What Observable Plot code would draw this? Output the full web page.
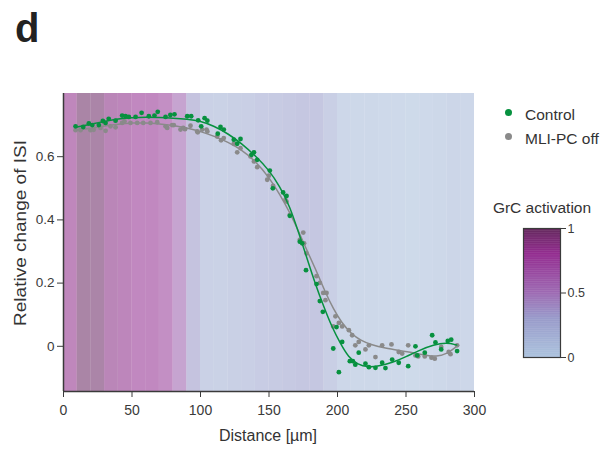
<!DOCTYPE html>
<html>
<head>
<meta charset="utf-8">
<script src="https://cdn.jsdelivr.net/npm/d3@7"></script>
<script src="https://cdn.jsdelivr.net/npm/@observablehq/plot@0.6"></script>
<style>
  html, body { margin: 0; padding: 0; background: #fff; }
  body { font-family: "Liberation Sans", Arial, sans-serif; color: #333; }
  #wrap { position: relative; width: 605px; height: 452px; overflow: hidden; }
  .abs { position: absolute; white-space: nowrap; line-height: 1; }
  #panel { left: 15px; top: 8px; font-size: 40px; font-weight: bold; color: #222; }
  #ylab { left: 20px; top: 233px; font-size: 19px; transform: translate(-50%, -50%) rotate(-90deg) scale(1, 0.85); }
  #xlab { left: 268px; top: 428px; font-size: 16px; transform: translateX(-50%); }
  .leg { left: 525px; font-size: 15.5px; }
  .sw { position: absolute; width: 7px; height: 7px; border-radius: 50%; }
  #cbtitle { left: 542px; top: 200px; font-size: 15.5px; transform: translateX(-50%); }
  #main { position: absolute; left: 0; top: 0; }
  #cbar { position: absolute; left: 522px; top: 222px; }
</style>
</head>
<body>
<div id="wrap">
  <div id="main"></div>
  <div id="cbar"></div>
  <div class="abs" id="panel">d</div>
  <div class="abs" id="ylab">Relative change of ISI</div>
  <div class="abs" id="xlab">Distance [µm]</div>
  <div class="sw" style="left:504.5px; top:108.5px; background:#07913f;"></div>
  <div class="abs leg" style="top:107px;">Control</div>
  <div class="sw" style="left:504.5px; top:132.5px; background:#8a8a8a;"></div>
  <div class="abs leg" style="top:131px;">MLI-PC off</div>
  <div class="abs" id="cbtitle">GrC activation</div>
</div>
<script>
// ---------- data ----------
const xTicks = [0, 50, 100, 150, 200, 250, 300];
const yTicks = [0, 0.2, 0.4, 0.6];
const yDomain = [-0.143, 0.8];
const cbarTicks = [0, 0.5, 1];

// background bands (10 µm each) and their GrC activation
const bandStart = [0,10,20,30,40,50,60,70,80,90,100,110,120,130,140,150,160,170,180,190,200,210,220,230,240,250,260,270,280,290];
const grcActivation = [0.82,0.97,0.96,0.85,0.83,0.79,0.79,0.73,0.55,0.32,0.15,0.14,0.16,0.17,0.21,0.22,0.25,0.28,0.28,0.17,0.07,0.06,0.05,0.04,0.04,0.03,0.04,0.06,0.08,0.07];

// colormap stops
const cmapStops = [0, 0.3, 0.5, 0.8, 1];
const cmapColors = ["#a0bad8", "#8a8cc2", "#9055a8", "#840f80", "#4d0a45"];

// Control points
const controlX = [8.8,14.4,18.5,21,25.8,28.7,30.7,33,38,42.8,45.3,47.7,52.6,57,62.3,66.4,68.8,74.5,78,81,90.3,93.2,98.3,100.5,103,105,112.6,114.6,117,124.3,126.8,129.2,137.2,139,141.4,150.6,152.8,160.3,162.8,165.2,172.5,174.2,177,184.7,187.1,189.3,196.9,199.3,201,203.4,209,211.2,213,215.5,220.4,222.9,227.7,232.6,235,239.9,244.7,251.6,256.9,258.2,263.7,269.1,271.5,275.7,280.5,283,287.3];
const controlY = [0.696,0.694,0.705,0.70,0.70,0.713,0.707,0.72,0.714,0.73,0.728,0.726,0.726,0.739,0.728,0.73,0.742,0.726,0.732,0.734,0.728,0.728,0.715,0.696,0.722,0.714,0.673,0.694,0.686,0.654,0.641,0.656,0.606,0.614,0.59,0.556,0.50,0.487,0.476,0.413,0.331,0.326,0.241,0.197,0.143,0.109,-0.007,0.061,-0.082,0.014,-0.047,-0.047,-0.058,-0.02,-0.055,-0.066,-0.068,-0.052,-0.069,-0.042,-0.052,-0.063,0.0,-0.029,-0.02,0.035,0.012,-0.01,0.017,0.021,-0.015];

// MLI-PC off points
const mliX = [8.8,12.4,19.7,22,27,30.7,34.3,38,42.8,44.5,48.9,53.8,58.2,63.5,68.4,74.5,75.7,79.3,80.5,85.4,87.4,88.7,92.7,97.6,98,101.2,104.4,105,112.2,115,117,124.3,126.8,129.2,136.5,139,141.4,148.7,149.9,153,162,162.8,165.2,172.5,175,175.6,177.4,184.7,187.1,189.6,191.2,192,196.9,198.5,201,203.4,208.3,210.7,213,215.5,220.4,222.9,227.7,232.6,239.4,244.7,247.2,251.6,256.9,258.9,263.7,268.6,271,275.7,281.2,282.5,287.3];
const mliY = [0.684,0.684,0.684,0.685,0.691,0.682,0.696,0.693,0.707,0.712,0.707,0.707,0.707,0.707,0.709,0.696,0.691,0.70,0.70,0.686,0.691,0.687,0.698,0.68,0.677,0.686,0.686,0.68,0.664,0.652,0.659,0.641,0.614,0.627,0.601,0.585,0.567,0.527,0.54,0.508,0.463,0.458,0.416,0.337,0.36,0.326,0.294,0.222,0.201,0.169,0.146,0.169,0.063,0.095,0.074,0.063,0.051,0.035,0.003,0.014,-0.01,0.003,-0.034,0.003,0.006,-0.018,-0.023,0.003,-0.029,-0.032,-0.032,-0.036,-0.039,-0.002,-0.018,-0.025,0.003];

// fitted curves
const controlFitX = [9,20,30,40,50,60,70,80,90,100,110,120,130,140,150,158,165,172,178,184,190,196,202,208,215,222,230,240,250,260,270,280,287];
const controlFitY = [0.693,0.703,0.712,0.72,0.724,0.725,0.724,0.722,0.719,0.713,0.697,0.673,0.642,0.603,0.558,0.505,0.445,0.355,0.275,0.195,0.125,0.06,0.01,-0.035,-0.058,-0.066,-0.063,-0.052,-0.033,-0.012,0.005,0.012,0.004];
const mliFitX = [9,20,30,40,50,60,70,80,90,100,110,120,130,140,150,158,165,172,178,185,191,197,203,210,217,225,235,245,255,265,272,280,287];
const mliFitY = [0.684,0.690,0.697,0.703,0.707,0.707,0.704,0.699,0.691,0.68,0.665,0.646,0.622,0.587,0.535,0.48,0.425,0.36,0.3,0.235,0.172,0.118,0.075,0.04,0.018,0.004,-0.006,-0.013,-0.02,-0.029,-0.033,-0.024,0.0];

// ---------- build ----------
const green = "#07913f", gray = "#8a8a8a", axisColor = "#3a3a3a";
const cmap = d3.scaleLinear().domain(cmapStops).range(cmapColors).interpolate(d3.interpolateRgb);

const bands = bandStart.map((s, i) => ({x0: s, x1: s + 10, a: grcActivation[i]}));
const ctrl = controlX.map((x, i) => ({x, y: controlY[i]}));
const mli = mliX.map((x, i) => ({x, y: mliY[i]}));
const ctrlFit = controlFitX.map((x, i) => ({x, y: controlFitY[i]}));
const mliFit = mliFitX.map((x, i) => ({x, y: mliFitY[i]}));

const main = Plot.plot({
  width: 480, height: 452,
  marginLeft: 63, marginRight: 6, marginTop: 93, marginBottom: 61,
  style: {fontFamily: "'Liberation Sans', Arial, sans-serif", color: axisColor, background: "transparent", overflow: "visible"},
  x: {domain: [0, 300]},
  y: {domain: yDomain},
  marks: [
    Plot.rect(bands, {x1: "x0", x2: "x1", fill: d => cmap(d.a), fillOpacity: 0.5}),
    Plot.dot(mli, {x: "x", y: "y", r: 2.4, fill: gray}),
    Plot.line(mliFit, {x: "x", y: "y", curve: "basis", stroke: gray, strokeWidth: 1.5}),
    Plot.dot(ctrl, {x: "x", y: "y", r: 2.4, fill: green}),
    Plot.line(ctrlFit, {x: "x", y: "y", curve: "basis", stroke: green, strokeWidth: 1.5}),
    Plot.ruleX([0], {stroke: axisColor, strokeWidth: 1.5}),
    Plot.ruleY([yDomain[0]], {stroke: axisColor, strokeWidth: 1.5}),
    Plot.axisY({ticks: yTicks, tickFormat: d => d === 0 ? "0" : d.toFixed(1), tickSize: 6, tickPadding: 3, fontSize: 13.5, label: null}),
    Plot.axisX({ticks: xTicks, tickFormat: d => String(d), tickSize: 6, tickPadding: 8, fontSize: 14, label: null})
  ]
});
document.getElementById("main").appendChild(main);

const steps = d3.range(0, 1, 0.005);
const cbar = Plot.plot({
  width: 80, height: 141,
  marginLeft: 1, marginRight: 42, marginTop: 6, marginBottom: 6,
  style: {fontFamily: "'Liberation Sans', Arial, sans-serif", color: axisColor, background: "transparent", overflow: "visible"},
  x: {domain: [0, 1], axis: null},
  y: {domain: [0, 1]},
  marks: [
    Plot.rect(steps, {x1: 0, x2: 1, y1: d => d, y2: d => Math.min(1, d + 0.006), fill: d => cmap(d)}),
    Plot.frame({stroke: axisColor, strokeWidth: 1.2}),
    Plot.axisY({anchor: "right", ticks: cbarTicks, tickFormat: d => String(d), tickSize: 5, tickPadding: 2, fontSize: 12.5, label: null})
  ]
});
document.getElementById("cbar").appendChild(cbar);
</script>
</body>
</html>
